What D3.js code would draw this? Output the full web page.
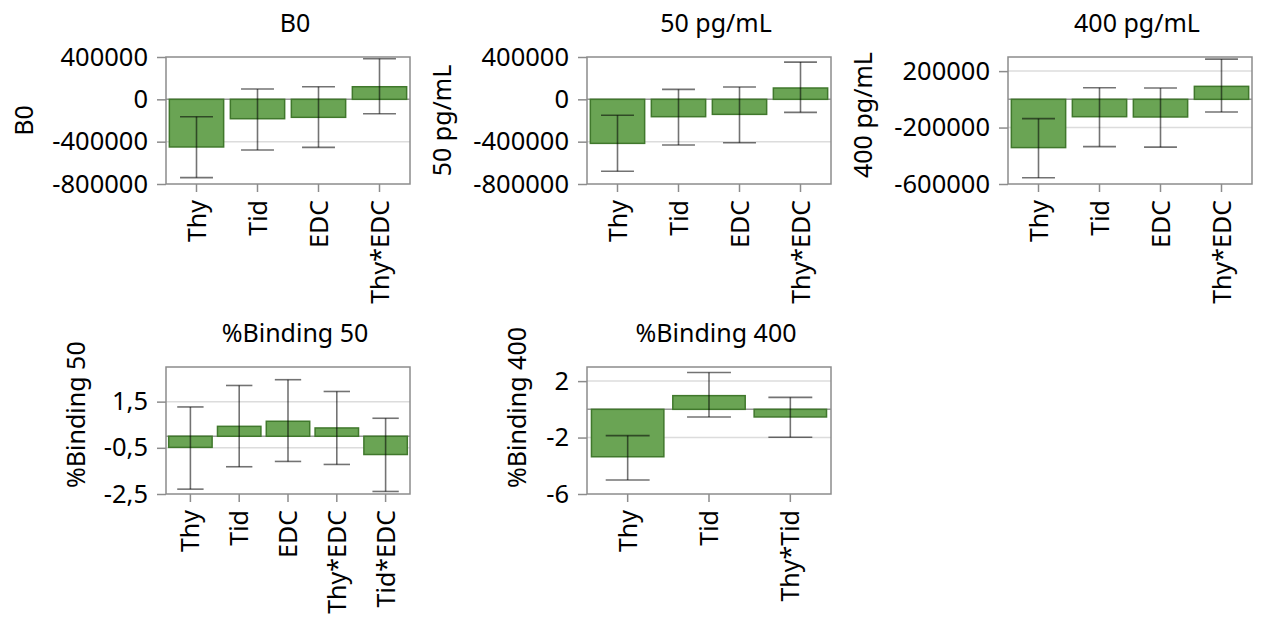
<!DOCTYPE html>
<html>
<head>
<meta charset="utf-8">
<script src="https://cdn.jsdelivr.net/npm/d3@7"></script>
<style>
  body { margin: 0; background: #fff; }
  text { font-family: "Segoe UI", "Noto Sans", sans-serif; fill: #000; }
</style>
</head>
<body>
<div id="chart"></div>
<script>
// Categories
var catsEDC = ["Thy", "Tid", "EDC", "Thy*EDC"];
var catsBind50 = ["Thy", "Tid", "EDC", "Thy*EDC", "Tid*EDC"];
var catsBind400 = ["Thy", "Tid", "Thy*Tid"];

// B0 estimates and interval ends
var b0Mean = [-450000, -183000, -170000, 119000];
var b0Low = [-740000, -479000, -454000, -136000];
var b0High = [-164000, 97000, 119000, 384000];

// 50 pg/mL
var pg50Mean = [-416000, -164000, -142000, 107000];
var pg50Low = [-680000, -432000, -410000, -123000];
var pg50High = [-151000, 94000, 116000, 352000];

// 400 pg/mL
var pg400Mean = [-342000, -123000, -125000, 92000];
var pg400Low = [-556000, -335000, -339000, -90000];
var pg400High = [-137000, 82000, 80000, 285000];

// %Binding 50
var bind50Mean = [-0.48, 0.43, 0.65, 0.36, -0.79];
var bind50Low = [-2.29, -1.32, -1.09, -1.22, -2.39];
var bind50High = [1.27, 2.20, 2.45, 1.94, 0.78];

// %Binding 400
var bind400Mean = [-3.36, 0.97, -0.54];
var bind400Low = [-5.01, -0.54, -1.98];
var bind400High = [-1.86, 2.61, 0.85];

// Tick labels
var ticksB0 = [400000, 0, -400000, -800000];
var ticks50 = [400000, 0, -400000, -800000];
var ticks400 = [200000, -200000, -600000];
var ticksBind50 = [1.5, -0.5, -2.5];
var ticksBind400 = [2, -2, -6];

var svgWidth = 1261;
var svgHeight = 619;
var boxW = 244;
var boxH = 127;

var svg = d3.select("#chart")
  .append("svg")
  .attr("width", svgWidth)
  .attr("height", svgHeight);

var panels = [
  { title: "B0", cats: catsEDC, mean: b0Mean, low: b0Low, high: b0High,
    ticks: ticksB0, domain: [-800000, 400000], left: 166, top: 57, ylabX: 33 },
  { title: "50 pg/mL", cats: catsEDC, mean: pg50Mean, low: pg50Low, high: pg50High,
    ticks: ticks50, domain: [-800000, 400000], left: 587, top: 57, ylabX: 451 },
  { title: "400 pg/mL", cats: catsEDC, mean: pg400Mean, low: pg400Low, high: pg400High,
    ticks: ticks400, domain: [-600000, 300000], left: 1008, top: 57, ylabX: 872 },
  { title: "%Binding 50", cats: catsBind50, mean: bind50Mean, low: bind50Low, high: bind50High,
    ticks: ticksBind50, domain: [-2.5, 3], left: 166, top: 367, ylabX: 85 },
  { title: "%Binding 400", cats: catsBind400, mean: bind400Mean, low: bind400Low, high: bind400High,
    ticks: ticksBind400, domain: [-6, 3], left: 587, top: 367, ylabX: 526 }
];

var fmt = function(d) { return String(d).replace(".", ","); };

panels.forEach(function(p) {
  var g = svg.append("g").attr("transform", `translate(${p.left}, ${p.top})`);

  var x = d3.scaleBand().domain(p.cats).range([0, boxW]).paddingInner(0.11).paddingOuter(0.055);
  var y = d3.scaleLinear().domain(p.domain).range([boxH, 0]);
  var step = x.step();

  // gridlines
  g.selectAll(".grid")
    .data(p.ticks.filter(function(t) { return t !== 0 && t > p.domain[0] && t < p.domain[1]; }))
    .enter().append("line")
    .attr("x1", 0).attr("x2", boxW)
    .attr("y1", function(d) { return y(d); })
    .attr("y2", function(d) { return y(d); })
    .attr("stroke", "#dcdcdc").attr("stroke-width", 1.5);

  // zero line
  g.append("line")
    .attr("x1", 0).attr("x2", boxW)
    .attr("y1", y(0)).attr("y2", y(0))
    .attr("stroke", "#9a9a9a").attr("stroke-width", 1.5);

  var rows = p.cats.map(function(c, i) {
    return { cat: c, mean: p.mean[i], low: p.low[i], high: p.high[i] };
  });

  // bars
  g.selectAll(".bar").data(rows).enter().append("rect")
    .attr("x", function(d) { return x(d.cat); })
    .attr("width", x.bandwidth())
    .attr("y", function(d) { return y(Math.max(0, d.mean)); })
    .attr("height", function(d) { return Math.abs(y(d.mean) - y(0)); })
    .attr("fill", "#6aa454")
    .attr("stroke", "#40782c")
    .attr("stroke-width", 1.5);

  // error bars
  var capW = step * 0.54;
  var eb = g.selectAll(".err").data(rows).enter().append("g")
    .attr("stroke", "rgba(0,0,0,0.55)").attr("stroke-width", 1.6);
  eb.append("line")
    .attr("x1", function(d) { return x(d.cat) + x.bandwidth() / 2; })
    .attr("x2", function(d) { return x(d.cat) + x.bandwidth() / 2; })
    .attr("y1", function(d) { return y(d.low); })
    .attr("y2", function(d) { return y(d.high); });
  ["low", "high"].forEach(function(k) {
    eb.append("line")
      .attr("x1", function(d) { return x(d.cat) + x.bandwidth() / 2 - capW / 2; })
      .attr("x2", function(d) { return x(d.cat) + x.bandwidth() / 2 + capW / 2; })
      .attr("y1", function(d) { return y(d[k]); })
      .attr("y2", function(d) { return y(d[k]); });
  });

  // frame
  g.append("rect")
    .attr("width", boxW).attr("height", boxH)
    .attr("fill", "none").attr("stroke", "#8c8c8c").attr("stroke-width", 1.5);

  // axes
  var leftAxis = d3.axisLeft(y).tickValues(p.ticks).tickFormat(fmt).tickSize(9).tickPadding(9);
  var ya = g.append("g").call(leftAxis);
  ya.select(".domain").remove();
  ya.selectAll("line").attr("stroke", "#8c8c8c").attr("stroke-width", 1.5);
  ya.selectAll("text").style("font-size", "25.5px").attr("fill", "#000");

  var bottomAxis = d3.axisBottom(x).tickSize(8);
  var xa = g.append("g").attr("transform", `translate(0, ${boxH})`).call(bottomAxis);
  xa.select(".domain").remove();
  xa.selectAll("line").attr("stroke", "#8c8c8c").attr("stroke-width", 1.5);
  xa.selectAll("text")
    .style("font-size", "25px").attr("fill", "#000")
    .attr("transform", "rotate(-90)")
    .attr("text-anchor", "end")
    .attr("x", -16).attr("y", 0).attr("dy", "0.36em");

  // title
  svg.append("text")
    .attr("x", p.left + boxW / 2 + 7)
    .attr("y", p.top - 25)
    .attr("text-anchor", "middle")
    .style("font-size", "25px")
    .text(p.title);

  // y axis title
  var yl = svg.append("text")
    .attr("transform", `translate(${p.ylabX}, ${p.top + boxH / 2}) rotate(-90)`)
    .attr("text-anchor", "middle")
    .style("font-size", "25px")
    .text(p.title);
  var len = yl.node().getComputedTextLength();
  if (len > boxH - 10) {
    yl.attr("transform", `translate(${p.ylabX}, ${p.top + boxH - 6}) rotate(-90)`)
      .attr("text-anchor", "start");
  }
});
</script>
</body>
</html>
